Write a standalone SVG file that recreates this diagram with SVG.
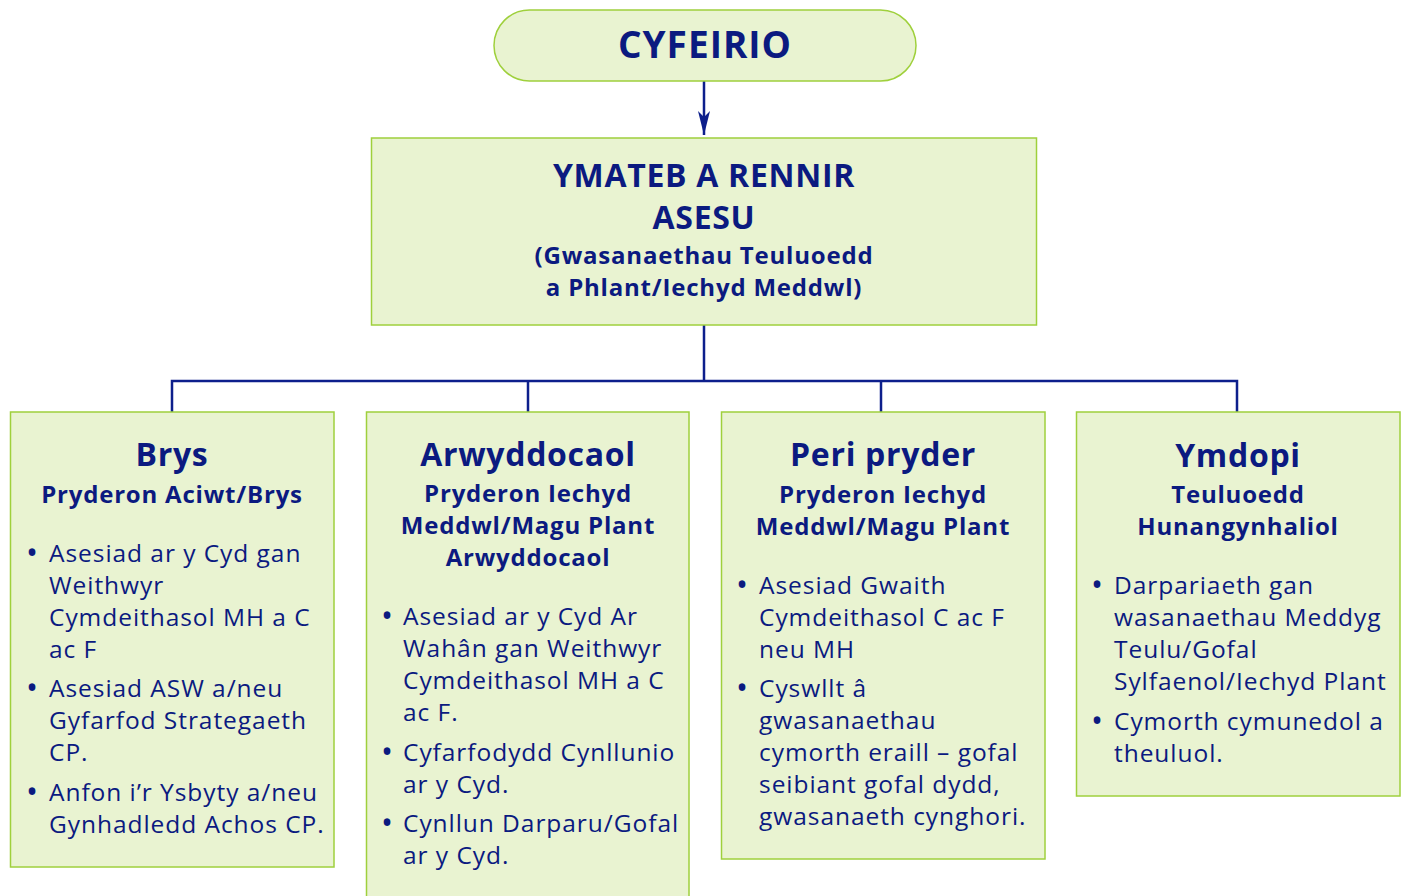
<svg xmlns="http://www.w3.org/2000/svg" width="1407" height="896" viewBox="0 0 1407 896">
<defs>
<style>
.box{fill:#e9f3d1;stroke:#9fd03c;stroke-width:1.5}
.t{font-family:"Open Sans","Noto Sans",sans-serif;fill:#0b1a80}
.h1{font-size:37px;font-weight:bold;text-anchor:middle;letter-spacing:1px}
.h2{font-size:32px;font-weight:bold;text-anchor:middle;letter-spacing:0.7px}
.h3{font-size:24px;font-weight:bold;text-anchor:middle;letter-spacing:0.8px}
.body{font-size:24.5px;letter-spacing:0.95px}
.bl{font-size:32px;letter-spacing:0}
.ln{stroke:#0d1f8c;stroke-width:2.5;fill:none}
</style>
<marker id="ah" viewBox="0 0 24 12" refX="24" refY="6" markerWidth="24" markerHeight="12" orient="auto" markerUnits="userSpaceOnUse">
<path d="M0,0 L24,6 L0,12 L6,6 Z" fill="#0d1f8c"/>
</marker>
</defs>
<rect width="1407" height="896" fill="#fff"/>
<g id="connectors">
<line class="ln" x1="704" y1="81" x2="704" y2="135" marker-end="url(#ah)"/>
<polyline class="ln" points="704,325 704,381"/>
<polyline class="ln" points="172,412 172,381 1237,381 1237,412"/>
<line class="ln" x1="528" y1="381" x2="528" y2="412"/>
<line class="ln" x1="881" y1="381" x2="881" y2="412"/>
</g>
<g id="cyfeirio">
<rect class="box" x="494" y="10" width="422" height="71" rx="35.5"/>
<text class="t h1" x="705" y="58">CYFEIRIO</text>
</g>
<g id="ymateb">
<rect class="box" x="371.5" y="138" width="665" height="187"/>
<text class="t h2" x="704" y="187">YMATEB A RENNIR</text>
<text class="t h2" x="704" y="229">ASESU</text>
<text class="t h3" x="704" y="264">(Gwasanaethau Teuluoedd</text>
<text class="t h3" x="704" y="296">a Phlant/Iechyd Meddwl)</text>
</g>
<g id="brys">
<rect class="box" x="10.5" y="412" width="323.5" height="455"/>
<text class="t h2" x="172" y="466">Brys</text>
<text class="t h3" x="172" y="503">Pryderon Aciwt/Brys</text>
<g class="t body">
<text class="bl" x="26" y="564">•</text>
<text x="49" y="562">Asesiad ar y Cyd gan</text>
<text x="49" y="594">Weithwyr</text>
<text x="49" y="626">Cymdeithasol MH a C</text>
<text x="49" y="658">ac F</text>
<text class="bl" x="26" y="699">•</text>
<text x="49" y="697">Asesiad ASW a/neu</text>
<text x="49" y="729">Gyfarfod Strategaeth</text>
<text x="49" y="761">CP.</text>
<text class="bl" x="26" y="803">•</text>
<text x="49" y="801">Anfon i’r Ysbyty a/neu</text>
<text x="49" y="833">Gynhadledd Achos CP.</text>
</g>
</g>
<g id="arwyddocaol">
<rect class="box" x="366.5" y="412" width="322.5" height="490"/>
<text class="t h2" x="528" y="466">Arwyddocaol</text>
<text class="t h3" x="528" y="502">Pryderon Iechyd</text>
<text class="t h3" x="528" y="534">Meddwl/Magu Plant</text>
<text class="t h3" x="528" y="566">Arwyddocaol</text>
<g class="t body">
<text class="bl" x="381" y="627">•</text>
<text x="403" y="625">Asesiad ar y Cyd Ar</text>
<text x="403" y="657">Wahân gan Weithwyr</text>
<text x="403" y="689">Cymdeithasol MH a C</text>
<text x="403" y="721">ac F.</text>
<text class="bl" x="381" y="763">•</text>
<text x="403" y="761">Cyfarfodydd Cynllunio</text>
<text x="403" y="793">ar y Cyd.</text>
<text class="bl" x="381" y="834">•</text>
<text x="403" y="832">Cynllun Darparu/Gofal</text>
<text x="403" y="864">ar y Cyd.</text>
</g>
</g>
<g id="peri-pryder">
<rect class="box" x="721.5" y="412" width="323.5" height="447"/>
<text class="t h2" x="883" y="466">Peri pryder</text>
<text class="t h3" x="883" y="503">Pryderon Iechyd</text>
<text class="t h3" x="883" y="535">Meddwl/Magu Plant</text>
<g class="t body">
<text class="bl" x="736" y="596">•</text>
<text x="759" y="594">Asesiad Gwaith</text>
<text x="759" y="626">Cymdeithasol C ac F</text>
<text x="759" y="658">neu MH</text>
<text class="bl" x="736" y="699">•</text>
<text x="759" y="697">Cyswllt â</text>
<text x="759" y="729">gwasanaethau</text>
<text x="759" y="761">cymorth eraill – gofal</text>
<text x="759" y="793">seibiant gofal dydd,</text>
<text x="759" y="825">gwasanaeth cynghori.</text>
</g>
</g>
<g id="ymdopi">
<rect class="box" x="1076.5" y="412" width="323.5" height="384"/>
<text class="t h2" x="1238" y="467">Ymdopi</text>
<text class="t h3" x="1238" y="503">Teuluoedd</text>
<text class="t h3" x="1238" y="535">Hunangynhaliol</text>
<g class="t body">
<text class="bl" x="1091" y="596">•</text>
<text x="1114" y="594">Darpariaeth gan</text>
<text x="1114" y="626">wasanaethau Meddyg</text>
<text x="1114" y="658">Teulu/Gofal</text>
<text x="1114" y="690">Sylfaenol/Iechyd Plant</text>
<text class="bl" x="1091" y="732">•</text>
<text x="1114" y="730">Cymorth cymunedol a</text>
<text x="1114" y="762">theuluol.</text>
</g>
</g>
</svg>
